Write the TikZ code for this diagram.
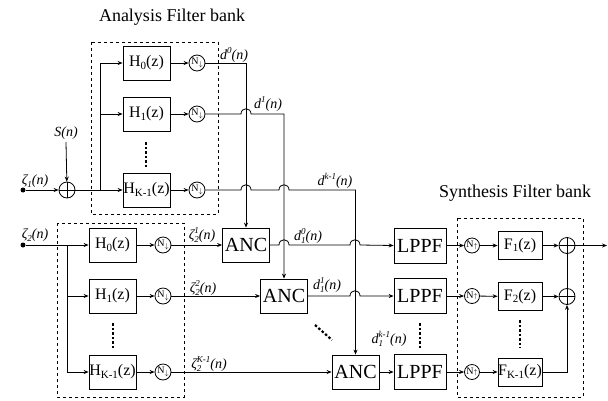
\documentclass[tikz,border=0pt]{standalone}
\usepackage{fontspec}
\setmainfont{Liberation Serif}
\usetikzlibrary{arrows.meta}
\newcommand\fs[1]{\fontsize{#1}{#1}\selectfont}
\newcommand\hs[1]{\raisebox{-0.3ex}{\fs{11}#1}}
\newcommand\lsup[1]{\raisebox{1.0ex}{\fs{9}\itshape #1}}
\newcommand\lsub[1]{\raisebox{-0.5ex}{\fs{9}\itshape #1}}
\newcommand\lsbsp[2]{\rlap{\lsub{#1}}\lsup{#2}}
\newcommand\bump[2]{-- (#1-5,#2) .. controls (#1-5,#2-7) and (#1+5,#2-7) .. (#1+5,#2)}
\newcommand\Nd{N\raisebox{-0.4ex}{\fs{7}$\downarrow$}}
\newcommand\Nu{N\raisebox{-0.1ex}{\fs{7}$\uparrow$}}
\begin{document}
\begin{tikzpicture}[x=1pt,y=-1pt,line width=0.8pt,
 arr/.style={-{Stealth[length=5pt,width=4pt]}},
 blk/.style={draw,inner sep=0pt,minimum width=47pt,minimum height=34pt},
 hb/.style={blk,font=\fs{16}},
 ab/.style={blk,font=\fs{20}},
 lp/.style={blk,minimum width=52pt,minimum height=35pt,font=\fs{20}},
 fb/.style={blk,minimum width=44pt,minimum height=28pt,font=\fs{16}},
 nc/.style={circle,draw,inner sep=0pt,minimum size=16pt,font=\fs{10}},
 sc/.style={circle,draw,inner sep=0pt,minimum size=16pt,
   path picture={\draw[line width=0.8pt] (path picture bounding box.north) -- (path picture bounding box.south)
     (path picture bounding box.west) -- (path picture bounding box.east);}},
 lab/.style={inner sep=0pt,font=\fs{14}\itshape},
 ttl/.style={inner sep=0pt,font=\fs{18}},
 dbox/.style={draw,dashed,line width=0.7pt},
 vdots/.style={line width=2.2pt,dash pattern=on 2.5pt off 2pt},
 dotn/.style={circle,fill,inner sep=0pt,minimum size=5pt}
]
\useasboundingbox (0,0) rectangle (608,400);

% ---------- upper analysis bank ----------
\node[ttl] (t1) at (172,17) {Analysis Filter bank};
\draw[dbox] (91,42) rectangle (218,214);
\node[hb] (aH0) at (146.5,63) {H\hs{0}(z)};
\node[hb] (aH1) at (146.5,114) {H\hs{1}(z)};
\node[hb] (aH2) at (146.5,190) {H\hs{K-1}(z)};
\node[nc] (aN0) at (197,63) {\Nd};
\node[nc] (aN1) at (197,114) {\Nd};
\node[nc] (aN2) at (197,190) {\Nd};
\draw[vdots] (146,142) -- (146,167);

\node[dotn] (z1) at (23,190) {};
\node[lab] (z1l) at (35,181) {ζ\lsub{1}(n)};
\node[sc] (s1) at (67,190) {};
\node[lab] (Sl) at (66,133) {S(n)};
\coordinate (ab0) at (100,63);
\coordinate (ab1) at (100,114);
\coordinate (ab2) at (100,190);

\draw[arr] (z1) -- (s1);
\draw[arr] (66,142) -- (s1);
\draw (s1) -- (ab2);
\draw (ab0) -- (ab2);
\draw[arr] (ab0) -- (aH0);
\draw[arr] (ab1) -- (aH1);
\draw[arr] (ab2) -- (aH2);
\draw[arr] (aH0) -- (aN0);
\draw[arr] (aH1) -- (aN1);
\draw[arr] (aH2) -- (aN2);

% ---------- lower analysis bank ----------
\draw[dbox] (57,223) rectangle (184,397);
\node[hb] (bH0) at (112.5,245) {H\hs{0}(z)};
\node[hb] (bH1) at (112.5,296) {H\hs{1}(z)};
\node[hb] (bH2) at (112.5,372) {H\hs{K-1}(z)};
\node[nc] (bN0) at (163,245) {\Nd};
\node[nc] (bN1) at (163,296) {\Nd};
\node[nc] (bN2) at (163,372) {\Nd};
\draw[vdots] (113,323) -- (113,349);

\node[dotn] (z2) at (23,245) {};
\node[lab] (z2l) at (35,235) {ζ\lsub{2}(n)};
\coordinate (bb0) at (67,245);
\coordinate (bb1) at (67,296);
\coordinate (bb2) at (67,372);
\draw[arr] (z2) -- (bH0);
\draw (bb0) -- (bb2);
\draw[arr] (bb1) -- (bH1);
\draw[arr] (bb2) -- (bH2);
\draw[arr] (bH0) -- (bN0);
\draw[arr] (bH1) -- (bN1);
\draw[arr] (bH2) -- (bN2);

% ---------- ANC ----------
\node[ab] (anc1) at (246,245) {ANC};
\node[ab] (anc2) at (284,296) {ANC};
\node[ab] (anc3) at (355.5,372) {ANC};

\draw[arr] (bN0) -- (anc1);
\draw[arr] (bN1) -- (anc2);
\draw[arr] (bN2) -- (anc3);
\node[lab] (l21) at (202,235) {ζ\lsbsp{2}{1}(n)};
\node[lab] (l22) at (203,288) {ζ\lsbsp{2}{2}(n)};
\node[lab] (l23) at (209,364) {ζ\lsbsp{2}{K-1}(n)};

\draw[arr] (aN0.east) -| (anc1.north);
\draw[arr] (aN1.east) \bump{246}{114} -| (anc2.north);
\draw[arr] (aN2.east) \bump{246}{190} \bump{284}{190} -| (anc3.north);
\node[lab] (ld0) at (234,55) {d\lsup{0}(n)};
\node[lab] (ld1) at (268,104) {d\lsup{1}(n)};
\node[lab] (ld2) at (335,181) {d\lsup{k-1}(n)};

% ---------- LPPF ----------
\node[lp] (lp1) at (420,245.5) {LPPF};
\node[lp] (lp2) at (420,296) {LPPF};
\node[lp] (lp3) at (420,372) {LPPF};
\draw[vdots] (420,323) -- (420,348);
\draw[arr] (anc1.east) \bump{284}{245} \bump{355}{245} -- (lp1.west);
\draw[arr] (anc2.east) \bump{355}{296} -- (lp2.west);
\draw[arr] (anc3) -- (lp3);
\node[lab] (ld10) at (308,236) {d\lsbsp{1}{0}(n)};
\node[lab] (ld11) at (327,285) {d\lsbsp{1}{1}(n)};
\node[lab] (ld12) at (389,339) {d\lsbsp{1}{k-1}(n)};
\draw[vdots] (315,325) -- (332,340);

% ---------- synthesis bank ----------
\node[ttl] (t2) at (515,193) {Synthesis Filter bank};
\draw[dbox] (457,218) rectangle (583,397);
\node[nc,minimum size=15pt] (u1) at (472,245.5) {\Nu};
\node[nc,minimum size=15pt] (u2) at (472,296) {\Nu};
\node[nc,minimum size=15pt] (u3) at (472,372) {\Nu};
\node[fb] (f1) at (520,245.5) {F\hs{1}(z)};
\node[fb] (f2) at (520,296.5) {F\hs{2}(z)};
\node[fb] (f3) at (520,372) {F\hs{K-1}(z)};
\draw[vdots] (520,320) -- (520,348);
\node[sc] (o1) at (567,245.5) {};
\node[sc] (o2) at (567,296.5) {};
\coordinate (out) at (607,245.5);

\draw[arr] (lp1) -- (u1);
\draw[arr] (lp2) -- (u2);
\draw[arr] (lp3) -- (u3);
\draw[arr] (u1) -- (f1);
\draw[arr] (u2) -- (f2);
\draw[arr] (u3) -- (f3);
\draw[arr] (f1) -- (o1);
\draw[arr] (f2) -- (o2);
\draw[arr] (f3.east) -| (o2.south);
\draw (o2) -- (o1);
\draw[arr] (o1) -- (out);
\end{tikzpicture}
\end{document}
